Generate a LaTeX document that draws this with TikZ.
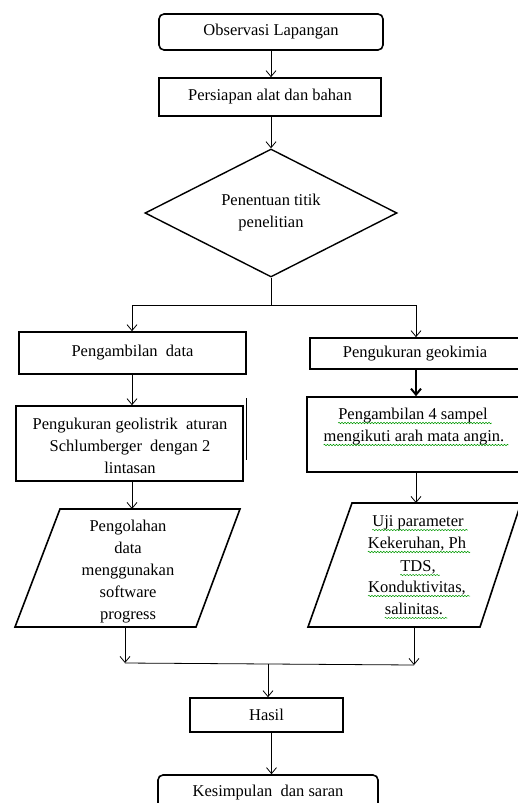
\documentclass[tikz,border=0pt]{standalone}
\usepackage{fontspec}
\setmainfont{Liberation Serif}
\usetikzlibrary{shapes.geometric,arrows.meta,decorations.pathmorphing}
\begin{document}
\begin{tikzpicture}[x=1pt,y=-1pt,
  font=\fontsize{16.5}{22}\selectfont,
  box/.style={draw, line width=1.6pt, inner sep=0pt, align=center},
  rbox/.style={box, rounded corners=5pt},
  para/.style={draw, line width=1.6pt, line join=miter},
  arr/.style={line width=0.8pt, -{Straight Barb[length=6pt,width=10pt]}},
  ln/.style={line width=0.8pt},
  squig/.style={draw=green!60!black, line width=0.5pt, decorate, decoration={snake, amplitude=0.7pt, segment length=3pt}},
  txt/.style={inner sep=0pt, anchor=base}
]
\useasboundingbox (0,0) rectangle (517,803);

% top column
\node[rbox, minimum width=224, minimum height=36] (obs) at (271,32) {Observasi Lapangan};
\node[box, minimum width=222, minimum height=38] (pers) at (270,97) {Persiapan alat dan bahan};
\node[draw, diamond, line width=1.4pt, aspect=1.97, minimum width=252, minimum height=128, inner sep=0pt, align=center] (dec) at (271,213) {Penentuan titik\\penelitian};

\draw[arr] (obs.south -| 271,0) -- (271,0 |- pers.north);
\draw[arr] (pers.south -| dec.north) -- (dec.north);

% split
\coordinate (split) at (271,305);
\coordinate (sl) at (132,305);
\coordinate (sr) at (416,305);
\draw[ln] (dec.south) -- (split);
\draw[ln] (sl) -- (sr);

% left column
\node[box, minimum width=227, minimum height=42] (pd) at (132.5,353) {Pengambilan\ \ data};
\node[box, minimum width=227, minimum height=75] (geol) at (129.5,443.5) {};
\node[align=center, inner sep=0pt] (geoltxt) at (130,446) {Pengukuran geolistrik\ \ aturan\\Schlumberger\ \ dengan 2\\lintasan};
\draw[line width=1pt] (246,398) -- (246,460);
\draw[para] (60,509) -- (240,509) -- (196,627) -- (15,627) -- cycle;
\coordinate (p1top) at (132,509);
\coordinate (p1bot) at (125,627);
\node[align=center, inner sep=0pt] (p1txt) at (128,572) {Pengolahan\\data\\menggunakan\\software\\progress};

\draw[arr] (sl) -- (sl |- pd.north);
\draw[arr] (pd.south -| sl) -- (sl |- geol.north);
\draw[arr] (geol.south -| sl) -- (p1top);

% right column
\node[box, minimum width=210, minimum height=31] (geo) at (415,353.5) {Pengukuran geokimia};
\node[box, minimum width=218, minimum height=75] (samp) at (416,434.5) {};
\node[txt] (s1) at (413,419) {Pengambilan 4 sampel};
\node[txt] (s2) at (414,441) {mengikuti arah mata angin.};
\draw[para] (352,503) -- (521,503) -- (480,627) -- (308,627) -- cycle;
\coordinate (p2top) at (416,503);
\coordinate (p2bot) at (414,627);
\node[txt] (u1) at (418,526) {Uji parameter};
\node[txt] (u2) at (417,548) {Kekeruhan, Ph};
\node[txt] (u3) at (418,571) {TDS,};
\node[txt] (u4) at (417,592) {Konduktivitas,};
\node[txt] (u5) at (414,614) {salinitas.};
\foreach \n in {s1,s2,u1,u2,u3,u4,u5}
  \draw[squig] ([yshift=-4pt]\n.base west) -- ([yshift=-4pt,xshift=4pt]\n.base east);

\draw[arr] (sr) -- (sr |- geo.north);
\draw[line width=2pt, -{Straight Barb[length=6pt,width=10pt]}] (geo.south -| sr) -- (sr |- samp.north);
\draw[arr] (samp.south -| sr) -- (p2top);

% merge
\coordinate (ml) at (125,663);
\coordinate (mr) at (414,665);
\coordinate (mm) at (268,664);
\draw[arr] (p1bot) -- (ml);
\draw[arr] (p2bot) -- (mr);
\draw[ln] (ml) -- (mr);

\node[box, minimum width=153, minimum height=34] (hasil) at (266.5,715) {Hasil};
\node[rbox, minimum width=220, minimum height=36] (kes) at (268,793) {Kesimpulan\ \ dan saran};

\draw[arr] (mm) -- (mm |- hasil.north);
\draw[arr] ([xshift=5pt]hasil.south) -- ([xshift=5pt]hasil.south |- kes.north);
\end{tikzpicture}
\end{document}
